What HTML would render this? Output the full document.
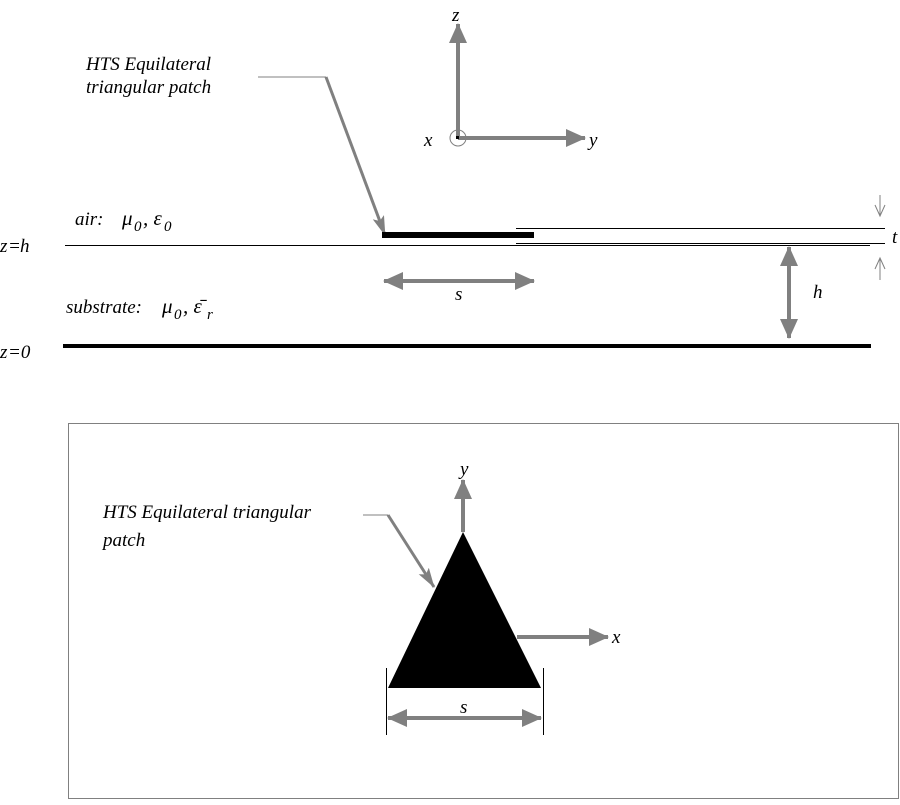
<!DOCTYPE html>
<html><head><style>
body{margin:0;background:#fff;width:900px;height:800px;overflow:hidden}
svg text{font-family:"Liberation Serif",serif;font-style:italic;fill:#000}
</style></head><body>
<svg width="900" height="800" viewBox="0 0 900 800">
<defs>
<marker id="a" markerWidth="20" markerHeight="18" refX="19" refY="9" orient="auto" markerUnits="userSpaceOnUse"><path d="M0,0L20,9L0,18z" fill="#808080"/></marker>
<marker id="b" markerWidth="20" markerHeight="18" refX="1" refY="9" orient="auto" markerUnits="userSpaceOnUse"><path d="M20,0L0,9L20,18z" fill="#808080"/></marker>
<marker id="c" markerWidth="20" markerHeight="12" refX="19" refY="6" orient="auto" markerUnits="userSpaceOnUse"><path d="M0,0L20,6L0,12L4,6z" fill="#808080"/></marker>
</defs>
<g stroke="#808080" stroke-width="4" fill="none">
<line x1="458" y1="138" x2="458" y2="24" marker-end="url(#a)"/>
<line x1="458" y1="138" x2="585" y2="138" marker-end="url(#a)"/>
<polyline points="326,77 385,235" stroke-width="3" marker-end="url(#c)" />
<line x1="384" y1="281" x2="534" y2="281" marker-start="url(#b)" marker-end="url(#a)"/>
<line x1="789" y1="247" x2="789" y2="338" marker-start="url(#b)" marker-end="url(#a)"/>
<line x1="463" y1="532" x2="463" y2="480" marker-end="url(#a)"/>
<line x1="517" y1="637" x2="608" y2="637" marker-end="url(#a)"/>
<polyline points="388,515 434,587" stroke-width="3" marker-end="url(#c)"/>
<line x1="388" y1="718" x2="541" y2="718" marker-start="url(#b)" marker-end="url(#a)"/>
</g>
<g shape-rendering="crispEdges">
<line x1="363" y1="515" x2="388" y2="515" stroke="#808080" stroke-width="1"/>
<line x1="258" y1="77" x2="326" y2="77" stroke="#808080" stroke-width="1"/>
<line x1="65" y1="245.5" x2="870" y2="245.5" stroke="#000" stroke-width="1"/>
<line x1="516" y1="228.5" x2="885" y2="228.5" stroke="#000" stroke-width="1"/>
<line x1="516" y1="243.5" x2="885" y2="243.5" stroke="#000" stroke-width="1"/>
<rect x="382" y="232" width="152" height="6" fill="#000"/>
<rect x="63" y="344" width="808" height="4" fill="#000"/>
<rect x="68.5" y="423.5" width="830" height="375" fill="none" stroke="#808080" stroke-width="1"/>
<line x1="386.5" y1="668" x2="386.5" y2="735" stroke="#000" stroke-width="1"/>
<line x1="543.5" y1="668" x2="543.5" y2="735" stroke="#000" stroke-width="1"/>
</g>
<circle cx="458" cy="138" r="8" fill="none" stroke="#808080" stroke-width="1"/>
<rect x="456" y="136" width="3" height="3" fill="#000"/>
<g stroke="#808080" stroke-width="1" fill="none">
<line x1="880" y1="195" x2="880" y2="216"/><polyline points="875,205 880,216 885,205"/>
<line x1="880" y1="258" x2="880" y2="280"/><polyline points="875,269 880,258 885,269"/>
</g>
<polygon points="463,532 388,688 541,688" fill="#000"/>
<g font-size="19">
<text x="86" y="70">HTS Equilateral</text>
<text x="86" y="93">triangular patch</text>
<text x="452" y="21">z</text>
<text x="424" y="146">x</text>
<text x="589" y="146">y</text>
<text x="75" y="225">air:</text>
<text x="122" y="225" font-size="21">μ</text><text x="134" y="231" font-size="15" font-style="normal">0</text><text x="143" y="225" font-size="21">, ε</text><text x="164" y="231" font-size="15" font-style="normal">0</text>
<text x="0" y="252">z</text><text x="8" y="252" font-style="normal">=</text><text x="20" y="252">h</text>
<text x="892" y="243">t</text>
<text x="455" y="300">s</text>
<text x="813" y="298">h</text>
<text x="66" y="313">substrate:</text>
<text x="162" y="313" font-size="21">μ</text><text x="174" y="319" font-size="15" font-style="normal">0</text><text x="183" y="313" font-size="21">, ε̄</text><text x="207" y="319" font-size="15">r</text>
<text x="0" y="358">z</text><text x="8" y="358" font-style="normal">=0</text>
<text x="103" y="518">HTS Equilateral triangular</text>
<text x="103" y="546">patch</text>
<text x="460" y="475">y</text>
<text x="612" y="643">x</text>
<text x="460" y="713">s</text>
</g>
</svg>
</body></html>
